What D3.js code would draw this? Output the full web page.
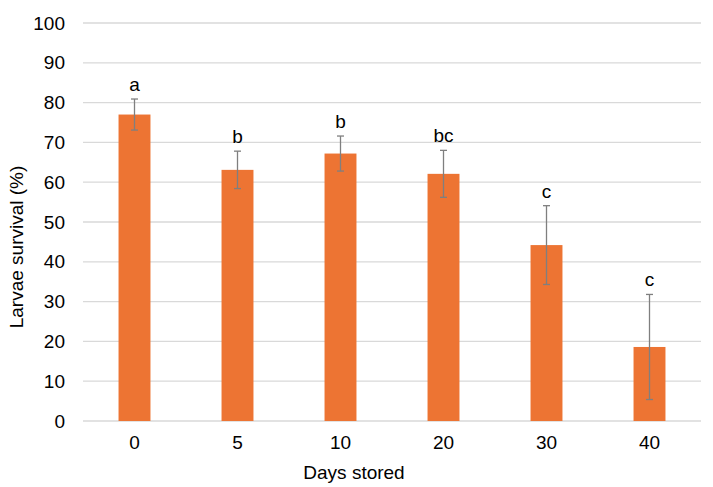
<!DOCTYPE html>
<html>
<head>
<meta charset="utf-8">
<script src="https://cdn.jsdelivr.net/npm/d3@7"></script>
<style>
  body { margin: 0; background: #fff; }
  svg { font-family: Arial, "Liberation Sans", sans-serif; }
</style>
</head>
<body>
<div id="container"></div>
<script>
let w = 713;
let h = 487;

// data
let days = ["0", "5", "10", "20", "30", "40"];
let survival = [77, 63.1, 67.2, 62.1, 44.2, 18.6];
let errors = [3.9, 4.7, 4.4, 5.9, 9.9, 13.2];
let letters = ["a", "b", "b", "bc", "c", "c"];
let yTicks = [0, 10, 20, 30, 40, 50, 60, 70, 80, 90, 100];

let plotLeft = 83;
let plotRight = 701;
let plotTop = 23;
let plotBottom = 421;

let viz = d3.select("#container")
  .append("svg")
    .attr("width", w)
    .attr("height", h)
;

let xScale = d3.scaleBand().domain(days).range([plotLeft, plotRight]).paddingInner(0.69).paddingOuter(0.345);
let yScale = d3.scaleLinear().domain([0, 100]).range([plotBottom, plotTop]);

// gridlines
viz.append("g")
  .selectAll("line")
  .data(yTicks)
  .enter()
  .append("line")
    .attr("x1", plotLeft)
    .attr("x2", plotRight)
    .attr("y1", function(d){ return yScale(d); })
    .attr("y2", function(d){ return yScale(d); })
    .attr("stroke", "#d9d9d9")
    .attr("stroke-width", 1.3)
;

// y axis labels
let yAxis = d3.axisLeft(yScale).tickValues(yTicks).tickSize(0).tickPadding(18);
let yAxisGroup = viz.append("g").attr("transform", "translate(" + plotLeft + ",0)").call(yAxis);
yAxisGroup.select(".domain").remove();
yAxisGroup.selectAll("text").attr("font-size", 19).attr("fill", "#000").attr("font-family", "Arial, 'Liberation Sans', sans-serif");

// x axis labels
let xAxis = d3.axisBottom(xScale).tickSize(0).tickPadding(15);
let xAxisGroup = viz.append("g").attr("transform", "translate(0," + plotBottom + ")").call(xAxis);
xAxisGroup.select(".domain").remove();
xAxisGroup.selectAll("text").attr("font-size", 19).attr("fill", "#000").attr("font-family", "Arial, 'Liberation Sans', sans-serif");

// bars
viz.append("g")
  .selectAll("rect")
  .data(survival)
  .enter()
  .append("rect")
    .attr("x", function(d, i){ return xScale(days[i]); })
    .attr("y", function(d){ return yScale(d); })
    .attr("width", xScale.bandwidth())
    .attr("height", function(d){ return yScale(0) - yScale(d); })
    .attr("fill", "#ed7433")
;

// error bars
let errGroup = viz.append("g").attr("stroke", "#7f7f7f").attr("stroke-width", 1.3);
survival.forEach(function(d, i){
  let cx = xScale(days[i]) + xScale.bandwidth() / 2;
  let y1 = yScale(d + errors[i]);
  let y2 = yScale(d - errors[i]);
  errGroup.append("line").attr("x1", cx).attr("x2", cx).attr("y1", y1).attr("y2", y2);
  errGroup.append("line").attr("x1", cx - 3.5).attr("x2", cx + 3.5).attr("y1", y1).attr("y2", y1);
  errGroup.append("line").attr("x1", cx - 3.5).attr("x2", cx + 3.5).attr("y1", y2).attr("y2", y2);
});

// significance letters
viz.append("g")
  .selectAll("text")
  .data(letters)
  .enter()
  .append("text")
    .attr("x", function(d, i){ return xScale(days[i]) + xScale.bandwidth() / 2; })
    .attr("y", function(d, i){ return yScale(survival[i] + errors[i]) - 8; })
    .attr("text-anchor", "middle")
    .attr("font-size", 19)
    .attr("fill", "#000")
    .text(function(d){ return d; })
;

// axis titles
viz.append("text")
  .attr("x", 354)
  .attr("y", 479)
  .attr("text-anchor", "middle")
  .attr("font-size", 19)
  .attr("fill", "#000")
  .text("Days stored");

viz.append("text")
  .attr("transform", "translate(23,247) rotate(-90)")
  .attr("text-anchor", "middle")
  .attr("font-size", 19)
  .attr("fill", "#000")
  .text("Larvae survival (%)");
</script>
</body>
</html>
